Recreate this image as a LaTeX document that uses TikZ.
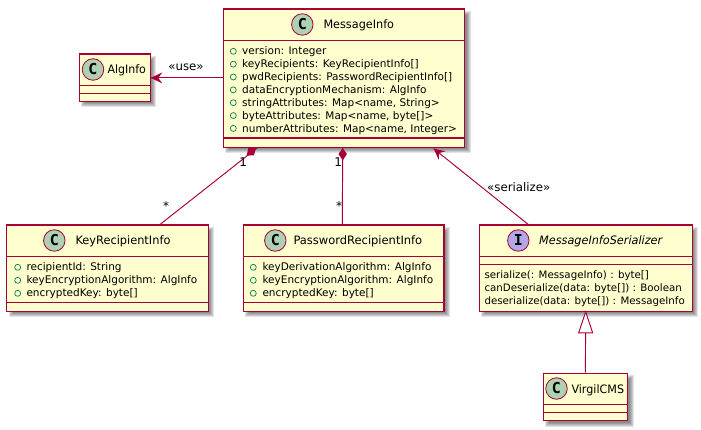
\documentclass[tikz,border=0pt]{standalone}
\usepackage{graphicx}
\usepackage{fontspec}
\setmainfont{DejaVu Sans}
\newfontfamily\badgefont{DejaVu Sans Mono}
\usetikzlibrary{calc}
\definecolor{umlred}{HTML}{A80036}
\definecolor{umlfill}{HTML}{FEFECE}
\definecolor{circC}{HTML}{ADD1B2}
\definecolor{circI}{HTML}{B4A7E5}
\definecolor{visgreen}{HTML}{038048}
\newcommand{\narrowed}[2]{\scalebox{#1}[1]{#2}}
\tikzset{
  x=1pt,y=-1pt,
  umlbox/.style={draw=umlred,line width=1.3pt,fill=umlfill,rectangle,inner sep=0pt,minimum width=#1},
  badge/.style={circle,draw=umlred,line width=.8pt,minimum size=21.5pt,inner sep=0pt,font=\badgefont\fontsize{15}{15}\selectfont\bfseries},
  conn/.style={draw=umlred,line width=.95pt},
  title/.style={anchor=base west,inner sep=0pt,font=\fontsize{11.6}{14}\selectfont},
  member/.style={anchor=base west,inner sep=0pt,font=\fontsize{10.5}{12}\selectfont},
  method/.style={anchor=base west,inner sep=0pt,font=\fontsize{10.25}{12}\selectfont},
  vis/.style={circle,draw=visgreen,line width=.7pt,minimum size=6pt,inner sep=0pt},
  lbl/.style={inner sep=0pt,font=\fontsize{11.8}{12}\selectfont},
  card/.style={inner sep=0pt,font=\fontsize{12}{12}\selectfont},
}
\newcommand{\shadowbox}[4]{%
  \foreach \s in {-2,-1,0,1,2}{
    \fill[black,opacity=.11] ($(#1,#2)+(4.5-\s,4.5-\s)$) rectangle ($(#3,#4)+(4.5+\s,4.5+\s)$);
  }}
\newcommand{\umlclass}[7]{% name x1 y1 x2 y2 sep1 sep2
  \node[umlbox=#4pt-#2pt,minimum height=#5pt-#3pt,anchor=north west] (#1) at (#2,#3) {};
  \draw[draw=umlred,line width=1.1pt] (#2,#6) -- (#4,#6) (#2,#7) -- (#4,#7);
}
\begin{document}
\begin{tikzpicture}
\useasboundingbox (0,0) rectangle (701,430);
\fill[white] (0,0) rectangle (701,430);
% shadows
\shadowbox{222.5}{8.5}{464}{146.7}
\shadowbox{78.5}{53.5}{149.5}{101}
\shadowbox{6}{224.5}{207.5}{310.5}
\shadowbox{242.5}{224.5}{443.3}{310.5}
\shadowbox{478.5}{224.5}{691.5}{310.5}
\shadowbox{542.5}{372.5}{627}{420}
% boxes
\umlclass{msg}{222.5}{8.5}{464}{146.7}{40.5}{138}
\umlclass{alg}{78.5}{53.5}{149.5}{101}{85.5}{93.5}
\umlclass{key}{6}{224.5}{207.5}{310.5}{256.5}{302.5}
\umlclass{pwd}{242.5}{224.5}{443.3}{310.5}{256.5}{302.5}
\umlclass{ser}{478.5}{224.5}{691.5}{310.5}{256.5}{264.5}
\umlclass{cms}{542.5}{372.5}{627}{420}{404.5}{412.5}
% endpoints
\coordinate (msgK) at ($(msg.south west)+(34.5,0)$);
\coordinate (keyT) at ($(key.north west)+(154,0)$);
\coordinate (msgP) at ($(msg.south west)+(120.2,0)$);
\coordinate (pwdT) at ($(pwd.north west)+(99.8,0)$);
\coordinate (msgS) at ($(msg.south east)+(-31.7,.6)$);
\coordinate (serT) at ($(ser.north west)+(49.8,0)$);
% connectors
\draw[conn] (alg.east) -- (alg.east -| msg.west);
\fill[umlred] (alg.east) -- ++(11.5,-5.5) -- ++(-4,5.5) -- ++(4,5.5) -- cycle;
\draw[conn] (msgK) -- (keyT);
\fill[umlred] (msgK) ++(-8.7,0) -- ++(7.7,0) -- ++(-2,7.3) -- ++(-7.3,.3) -- cycle;
\draw[conn] (msgP) -- (pwdT);
\fill[umlred] (msgP) -- ++(4.2,6) -- ++(-4.2,6.5) -- ++(-4.2,-6.5) -- cycle;
\draw[conn] (msgS) -- (serT);
\fill[umlred] (msgS) -- ++(5.2,11.2) -- ++(.3,-6.8) -- ++(6.5,-1.7) -- cycle;
\draw[conn] (cms.north) -- (ser.south);
\filldraw[conn,fill=white] (ser.south) -- ++(7,21) -- ++(-14,0) -- cycle;
% labels
\node[lbl] (use) at (186,67) {«use»};
\node[lbl] (seri) at (518.8,187) {«serialize»};
\node[card] (k1) at (243.3,162.3) {1};
\node[card] (ks) at (166,206) {*};
\node[card] (p1) at (338.3,162.3) {1};
\node[card] (ps) at (339,206) {*};
% badges
\node[badge,fill=circC] (bm) at (302.3,24.5) {C};
\node[title] (tm) at (323.3,29) {\narrowed{.97}{MessageInfo}};
\node[badge,fill=circC] (ba) at (93,69.5) {C};
\node[title] (ta) at (107.3,74) {\narrowed{.95}{AlgInfo}};
\node[badge,fill=circC] (bk) at (54.3,240.5) {C};
\node[title] (tk) at (75.3,245) {\narrowed{.98}{KeyRecipientInfo}};
\node[badge,fill=circC] (bp) at (275.3,240.5) {C};
\node[title] (tp) at (293.3,245) {\narrowed{.99}{PasswordRecipientInfo}};
\node[badge,fill=circI] (bs) at (518.3,240.5) {I};
\node[title,font=\fontsize{11.6}{14}\selectfont\itshape] (ts) at (539,245) {\narrowed{.97}{MessageInfoSerializer}};
\node[badge,fill=circC] (bc) at (556.5,388.5) {C};
\node[title] (tc) at (571.3,393) {\narrowed{.96}{VirgilCMS}};
% MessageInfo members
\foreach \t [count=\i from 0] in {{version: Integer},{keyRecipients: KeyRecipientInfo[]},{pwdRecipients: PasswordRecipientInfo[]},{dataEncryptionMechanism: AlgInfo},{stringAttributes: Map<name, String>},{byteAttributes: Map<name, byte[]>},{numberAttributes: Map<name, Integer>}}{
  \node[vis] (mv\i) at (233.3,51.3+12.85*\i) {};
  \node[member] (mt\i) at (242,55+12.85*\i) {\t};
}
\foreach \t [count=\i from 0] in {{recipientId: String},{keyEncryptionAlgorithm: AlgInfo},{encryptedKey: byte[]}}{
  \node[vis] (kv\i) at (17.7,267.3+13*\i) {};
  \node[member] (kt\i) at (26.3,270.7+13*\i) {\t};
}
\foreach \t [count=\i from 0] in {{keyDerivationAlgorithm: AlgInfo},{keyEncryptionAlgorithm: AlgInfo},{encryptedKey: byte[]}}{
  \node[vis] (pv\i) at (253.3,267.3+13*\i) {};
  \node[member] (pt\i) at (262.3,270.7+13*\i) {\t};
}
\foreach \t [count=\i from 0] in {{serialize(: MessageInfo) : byte[]},{canDeserialize(data: byte[]) : Boolean},{deserialize(data: byte[]) : MessageInfo}}{
  \node[method] (st\i) at (484.3,278.5+13*\i) {\t};
}
\end{tikzpicture}
\end{document}
